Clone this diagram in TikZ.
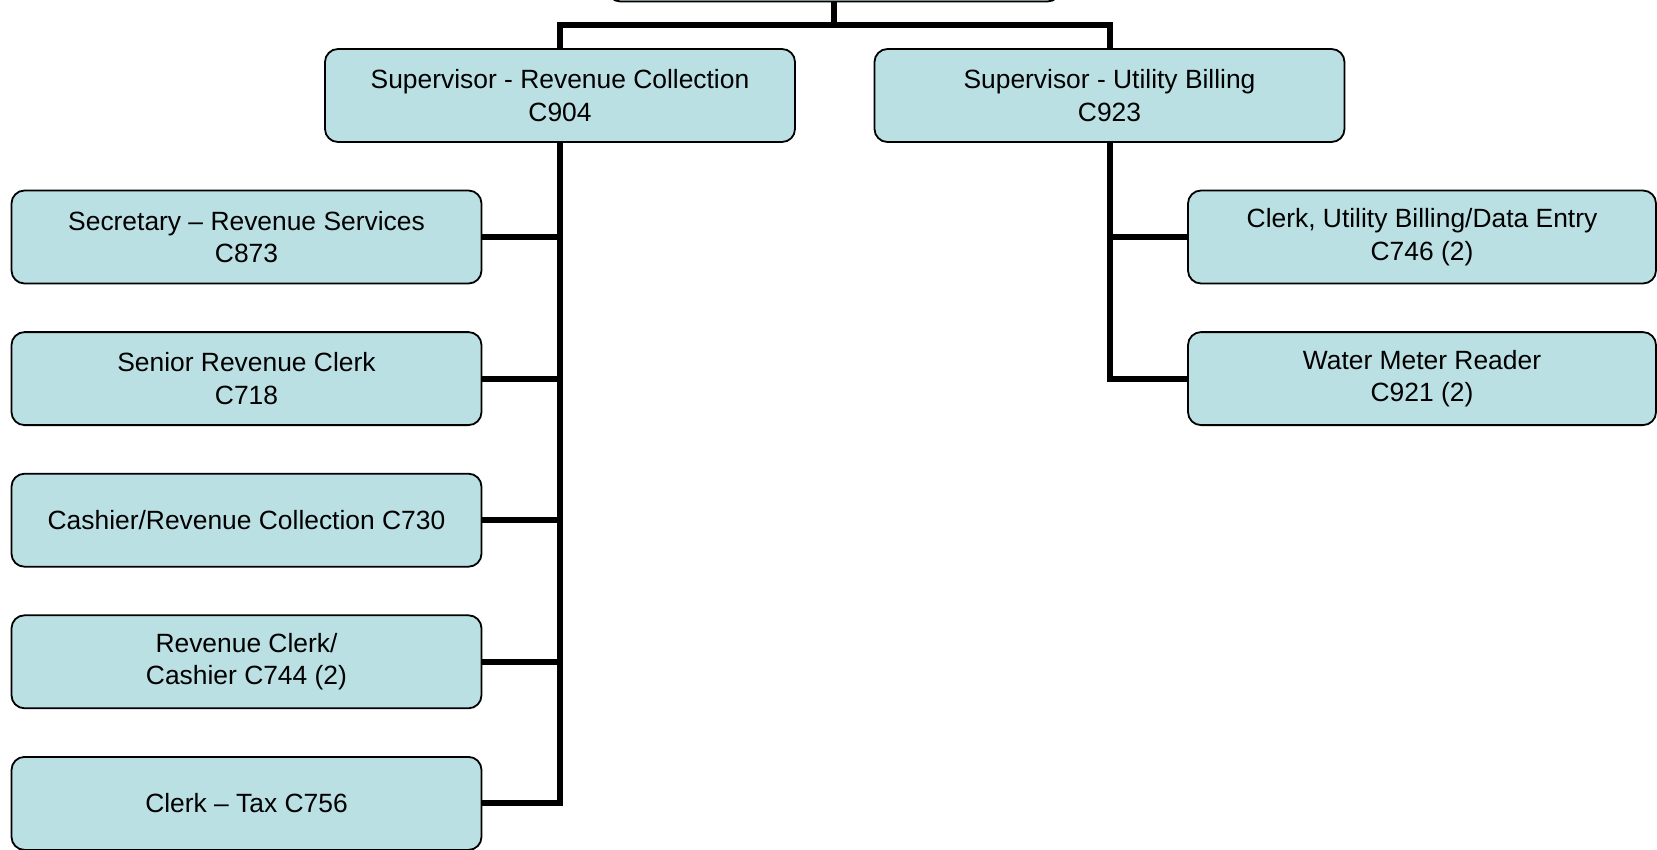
\documentclass[tikz,border=0pt]{standalone}
\usepackage{fontspec}
\setmainfont{Liberation Sans}
\definecolor{boxfill}{RGB}{186,224,227}
\begin{document}
\begin{tikzpicture}[x=1pt,y=-1pt,
  orgbox/.style={draw=black, line width=1.8pt, fill=boxfill, rounded corners=13pt,
    minimum width=470pt, minimum height=93pt, align=center, inner sep=0pt,
    font=\fontsize{26.4}{32.5}\selectfont},
  conn/.style={draw=black, line width=6pt}]
\useasboundingbox (0,0) rectangle (1657,849);
\clip (0,0) rectangle (1657,849);
% top box (mostly off the page)
\node[orgbox, minimum width=453pt] (top) at (834,-45) {};
% supervisors
\node[orgbox] (sup1) at (560,95.5) {Supervisor - Revenue Collection\\C904};
\node[orgbox] (sup2) at (1109.5,95.5) {Supervisor - Utility Billing\\C923};
% left column
\node[orgbox] (c1) at (246.5,237) {Secretary – Revenue Services\\C873};
\node[orgbox] (c2) at (246.5,378.6) {Senior Revenue Clerk\\C718};
\node[orgbox] (c3) at (246.5,520.2) {Cashier/Revenue Collection C730};
\node[orgbox] (c4) at (246.5,661.8) {Revenue Clerk/\\Cashier C744 (2)};
\node[orgbox] (c5) at (246.5,803.4) {Clerk – Tax C756};
% right column
\node[orgbox, minimum width=468pt] (r1) at (1422,237) {Clerk, Utility Billing/Data Entry\\C746 (2)};
\node[orgbox, minimum width=468pt] (r2) at (1422,378.6) {Water Meter Reader\\C921 (2)};
% connectors
\coordinate (bus) at (834,25);
\draw[conn] (top.south) -- (bus);
\draw[conn] (sup1.north) |- (bus) -| (sup2.north);
\draw[conn] (sup1.south) |- (c5.east);
\foreach \n in {c1,c2,c3,c4} \draw[conn] (sup1.south) |- (\n.east);
\draw[conn] (sup2.south) |- (r2.west);
\draw[conn] (sup2.south) |- (r1.west);
\end{tikzpicture}
\end{document}
